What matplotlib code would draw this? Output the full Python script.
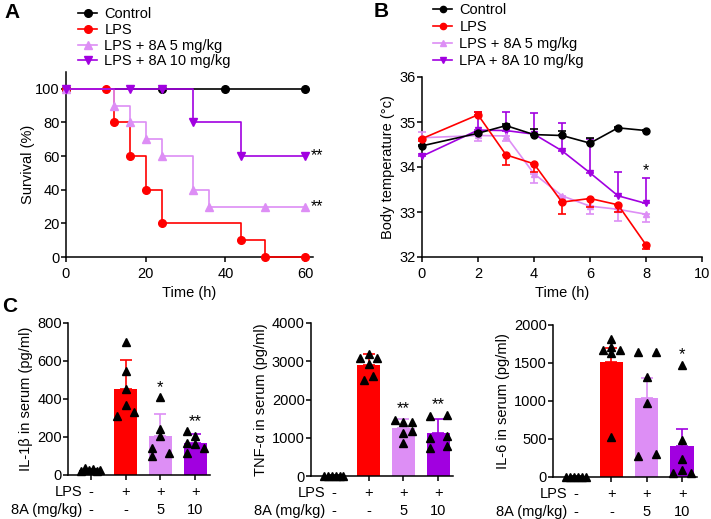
import numpy as np
import matplotlib
matplotlib.use("Agg")
import matplotlib.pyplot as plt
import matplotlib.transforms as mtransforms

plt.rcParams['font.family'] = ['Liberation Sans', 'DejaVu Sans']
plt.rcParams['font.size'] = 10
plt.rcParams['axes.linewidth'] = 1.1
plt.rcParams['xtick.major.width'] = 1.1
plt.rcParams['ytick.major.width'] = 1.1
plt.rcParams['xtick.major.size'] = 3.5
plt.rcParams['ytick.major.size'] = 3.5

#色
C_CTRL = "black"
C_LPS = "#FF0000"
C_5 = "#DD8EF5"
C_10 = "#A100E0"

group_names = ["Control", "LPS", "LPS + 8A 5 mg/kg", "LPS + 8A 10 mg/kg"]
group_names_b = ["Control", "LPS", "LPS + 8A 5 mg/kg", "LPA + 8A 10 mg/kg"]

#A: 生存率
ctrl_t = [0, 24, 40, 60]
ctrl_s = [100, 100, 100, 100]
lps_t = [0, 10, 12, 16, 20, 24, 44, 50, 60]
lps_s = [100, 100, 80, 60, 40, 20, 10, 0, 0]
a5_t = [0, 12, 16, 20, 24, 32, 36, 50, 60]
a5_s = [100, 90, 80, 70, 60, 40, 30, 30, 30]
a10_t = [0, 16, 24, 32, 44, 60]
a10_s = [100, 100, 100, 80, 60, 60]

#B: 体温
temp_t = [0, 2, 3, 4, 5, 6, 7, 8]
ctrl_temp = [34.47, 34.75, 34.92, 34.72, 34.70, 34.53, 34.87, 34.81]
ctrl_up = [0.03, 0.03, 0.03, 0.13, 0.10, 0.11, 0.02, 0.02]
lps_temp = [34.63, 35.16, 34.27, 34.07, 33.22, 33.30, 33.16, 32.27]
lps_lo = [0.05, 0.0, 0.22, 0.17, 0.26, 0.18, 0.16, 0.09]
lps_up = [0.0, 0.07, 0.0, 0.0, 0.0, 0.0, 0.0, 0.0]
a5_temp = [34.65, 34.70, 34.69, 33.85, 33.36, 33.13, 33.06, 32.95]
a5_lo = [0.0, 0.13, 0.12, 0.21, 0.15, 0.17, 0.25, 0.17]
a5_up = [0.13, 0.0, 0.0, 0.0, 0.0, 0.0, 0.0, 0.0]
a10_temp = [34.24, 34.82, 34.81, 34.73, 34.36, 33.87, 33.36, 33.19]
a10_up = [0.05, 0.41, 0.41, 0.48, 0.62, 0.75, 0.52, 0.57]

#C: サイトカイン
lps_row = ["-", "+", "+", "+"]
dose_row = ["-", "-", "5", "10"]

il1b_mean = [25, 452, 203, 171]
il1b_err = [8, 154, 117, 45]
il1b_pts = [[20, 35, 25, 30, 20, 25],
            [701, 548, 454, 366, 313, 332],
            [410, 242, 203, 141, 101, 118],
            [231, 207, 171, 163, 115, 141]]
il1b_star = ["", "", "*", "**"]

tnf_mean = [10, 2900, 1248, 1125]
tnf_err = [5, 282, 247, 361]
tnf_pts = [[10, 10, 10, 10, 10, 10],
           [3094, 3182, 3077, 2936, 2497, 2611],
           [1468, 1407, 1424, 1116, 1187, 862],
           [1556, 1600, 985, 1055, 721, 791]]
tnf_star = ["", "", "**", "**"]

il6_mean = [5, 1515, 1040, 402]
il6_err = [3, 185, 262, 225]
il6_pts = [[5, 5, 5, 5, 5, 5],
           [1815, 1675, 1710, 1675, 1630, 521],
           [1644, 1644, 1311, 976, 278, 300],
           [1479, 490, 234, 93, 57, 57]]
il6_star = ["", "", "", "*"]

fig = plt.figure(figsize=(7.11, 5.19), dpi=100)
W, H = 711.0, 519.0

def add_ax(left, top, right, bottom):
    return fig.add_axes([left / W, 1 - bottom / H, (right - left) / W, (bottom - top) / H])

def style(ax):
    ax.spines["top"].set_visible(False)
    ax.spines["right"].set_visible(False)
    ax.tick_params(direction="out", labelsize=10.5)
    ax.tick_params(axis="y", pad=1)

# ---------- A ----------
axA = add_ax(66, 72, 313, 257)
style(axA)
lw = 1.2
ms = 5.5
hA = []
hA.append(axA.plot(ctrl_t, ctrl_s, drawstyle="steps-post", color=C_CTRL, marker="o",
                   ms=ms, lw=lw, clip_on=False, zorder=3)[0])
hA.append(axA.plot(lps_t, lps_s, drawstyle="steps-post", color=C_LPS, marker="o",
                   ms=ms, lw=lw, clip_on=False, zorder=4)[0])
hA.append(axA.plot(a5_t, a5_s, drawstyle="steps-post", color=C_5, marker="^",
                   ms=ms, lw=lw, clip_on=False, zorder=5)[0])
hA.append(axA.plot(a10_t, a10_s, drawstyle="steps-post", color=C_10, marker="v",
                   ms=ms, lw=lw, clip_on=False, zorder=6)[0])
axA.set_xlim(0, 62)
axA.set_ylim(0, 110)
axA.set_xticks([0, 20, 40, 60])
axA.set_yticks([0, 20, 40, 60, 80, 100])
axA.set_ylabel("Survival (%)", fontsize=10.5, labelpad=0)
axA.set_xlabel("Time (h)", fontsize=10.5, labelpad=4)
axA.text(61.5, 60, "**", ha="left", va="center", fontsize=11.5)
axA.text(61.5, 30, "**", ha="left", va="center", fontsize=11.5)
fig.legend(hA, group_names, loc="upper left", bbox_to_anchor=(68 / W, 1 + 3 / H),
           frameon=False, fontsize=10.5, handlelength=1.3, handletextpad=0.5,
           labelspacing=0.12, borderpad=0.2)
fig.text(4 / W, 1 - 3 / H, "A", fontsize=15, fontweight="bold", va="top")

# ---------- B ----------
axB = add_ax(422, 77, 702, 257)
style(axB)
ms2 = 5
eb = dict(lw=lw, capsize=3, elinewidth=lw, capthick=lw, ms=ms2, clip_on=False)
h10 = axB.errorbar(temp_t, a10_temp, yerr=[np.zeros(len(temp_t)), a10_up], color=C_10, marker="v", zorder=3, **eb)
h5 = axB.errorbar(temp_t, a5_temp, yerr=[a5_lo, a5_up], color=C_5, marker="^", zorder=4, **eb)
hc = axB.errorbar(temp_t, ctrl_temp, yerr=[np.zeros(len(temp_t)), ctrl_up], color=C_CTRL, marker="o", zorder=5, **eb)
hl = axB.errorbar(temp_t, lps_temp, yerr=[lps_lo, lps_up], color=C_LPS, marker="o", zorder=6, **eb)
axB.set_xlim(0, 10)
axB.set_ylim(32, 36)
axB.set_xticks([0, 2, 4, 6, 8, 10])
axB.set_yticks([32, 33, 34, 35, 36])
axB.set_ylabel("Body temperature (°c)", fontsize=10.5, labelpad=3)
axB.set_xlabel("Time (h)", fontsize=10.5, labelpad=4)
axB.text(8, 33.93, "*", ha="center", va="center", fontsize=11.5)
hB = [hc.lines[0], hl.lines[0], h5.lines[0], h10.lines[0]]
fig.legend(hB, group_names_b, loc="upper left", bbox_to_anchor=(423 / W, 1 + 7 / H),
           frameon=False, fontsize=10.5, handlelength=1.3, handletextpad=0.5,
           labelspacing=0.2, borderpad=0.2, markerscale=0.9)
fig.text(374 / W, 1 - 2 / H, "B", fontsize=15, fontweight="bold", va="top")

# ---------- C ----------
bar_colors = [C_CTRL, C_LPS, C_5, C_10]
jitter = [[-0.28, -0.17, -0.06, 0.06, 0.17, 0.28],
          [0.0, 0.0, 0.0, 0.0, -0.24, 0.25],
          [0.0, 0.0, 0.0, -0.24, -0.24, 0.25],
          [-0.24, 0.0, -0.24, 0.0, -0.24, 0.25]]
jitter_tnf = [[-0.28, -0.17, -0.06, 0.06, 0.17, 0.28],
              [-0.25, 0.0, 0.25, 0.0, -0.13, 0.12],
              [-0.25, 0.0, 0.25, 0.0, 0.25, 0.0],
              [-0.25, 0.25, -0.25, 0.25, -0.25, 0.25]]
jitter_il6 = [[-0.28, -0.17, -0.06, 0.06, 0.17, 0.28],
              [0.0, -0.25, 0.0, 0.25, 0.0, 0.0],
              [-0.25, 0.25, 0.0, 0.0, -0.25, 0.25],
              [0.0, 0.0, 0.0, 0.0, -0.25, 0.25]]

def bar_panel(ax, means, errs, pts, jit, ymax, ystep, ylabel, stars):
    style(ax)
    x = np.arange(len(means))
    for i in range(len(means)):
        ax.bar(x[i], means[i], width=0.66, color=bar_colors[i], zorder=2)
        ax.errorbar(x[i], means[i], yerr=[[0], [errs[i]]], color=bar_colors[i],
                    lw=1.2, capsize=4, capthick=1.2, zorder=1.5)
        ax.plot(x[i] + np.array(jit[i]), pts[i], linestyle="none", marker="^",
                color="black", ms=5.8, zorder=4, clip_on=False)
        if stars[i]:
            top = max(max(pts[i]), means[i] + errs[i])
            ax.text(x[i], top + ymax * 0.065, stars[i], ha="center", va="center", fontsize=12)
    ax.set_xlim(-0.65, 3.42)
    ax.set_ylim(0, ymax)
    ax.set_yticks(np.arange(0, ymax + 1, ystep))
    ax.set_xticks(x)
    ax.set_xticklabels([])
    ax.set_ylabel(ylabel, fontsize=10.5, labelpad=3)
    trans = mtransforms.blended_transform_factory(ax.transData, ax.transAxes)
    for i in range(len(means)):
        ax.text(x[i], -0.11, lps_row[i], transform=trans, ha="center", va="center", fontsize=10.5)
        ax.text(x[i], -0.23, dose_row[i], transform=trans, ha="center", va="center", fontsize=10.5)
    ax.text(-0.25, -0.11, "LPS", transform=trans, ha="right", va="center", fontsize=10.5)
    ax.text(-0.25, -0.23, "8A (mg/kg)", transform=trans, ha="right", va="center", fontsize=10.5)

axC1 = add_ax(68, 323, 210, 475)
bar_panel(axC1, il1b_mean, il1b_err, il1b_pts, jitter, 800, 200, "IL-1β in serum (pg/ml)", il1b_star)
axC2 = add_ax(311, 323, 453, 476)
bar_panel(axC2, tnf_mean, tnf_err, tnf_pts, jitter_tnf, 4000, 1000, "TNF-α in serum (pg/ml)", tnf_star)
axC3 = add_ax(553, 325, 697, 477)
bar_panel(axC3, il6_mean, il6_err, il6_pts, jitter_il6, 2000, 500, "IL-6 in serum (pg/ml)", il6_star)
fig.text(2 / W, 1 - 297 / H, "C", fontsize=15, fontweight="bold", va="top")

fig.savefig("out.png", dpi=100)
